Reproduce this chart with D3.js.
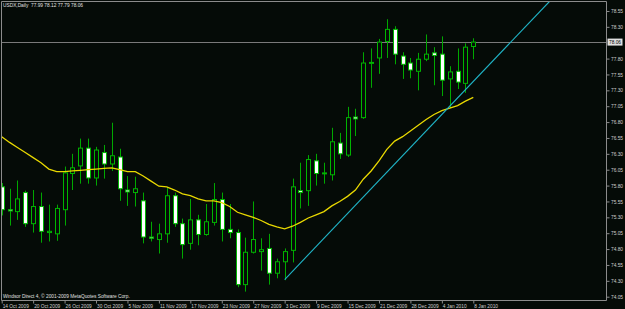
<!DOCTYPE html>
<html>
<head>
<meta charset="utf-8">
<script src="https://cdn.jsdelivr.net/npm/d3@7"></script>
<style>
  html, body { margin: 0; padding: 0; background: #050b07; overflow: hidden; }
  svg { display: block; }
  text { font-family: "Liberation Sans", Arial, sans-serif; }
</style>
</head>
<body>
<script>
// daily bars, 14 Oct 2009 .. 8 Jan 2010
const opens = [75.78,75.42,75.39,75.69,75.20,75.47,75.06,75.04,75.42,75.99,
  76.11,76.39,75.92,76.32,76.14,76.25,75.73,75.69,75.56,74.99,
  74.95,75.04,75.64,75.20,74.89,75.26,75.03,75.22,75.58,75.11,
  75.06,74.24,74.75,74.76,74.81,74.42,74.60,74.78,75.72,75.72,
  76.19,75.99,75.97,76.47,76.28,76.88,76.87,77.73,77.81,78.07,
  78.26,77.84,77.73,77.60,77.79,77.89,77.87,77.48,77.60,77.41,
  77.99];
const highs = [75.84,75.75,75.88,75.72,75.73,75.69,75.50,75.50,76.10,76.30,
  76.54,76.54,76.41,76.44,76.79,76.38,75.95,75.94,75.69,75.23,
  75.20,75.77,75.69,75.28,75.59,75.34,75.51,75.84,75.69,75.51,
  75.11,74.98,75.55,74.97,75.04,74.65,74.81,75.91,76.16,76.28,
  76.30,76.16,76.71,76.63,77.04,77.01,77.90,77.96,78.11,78.42,
  78.31,77.90,77.81,77.89,78.18,77.98,78.15,77.68,77.96,78.04,
  78.12];
const lows = [75.33,75.17,75.26,75.15,75.06,74.90,74.92,74.93,75.17,75.73,
  75.83,75.83,75.80,75.91,76.03,75.56,75.48,75.47,74.89,74.92,
  74.73,74.90,75.15,74.65,74.79,74.86,75.01,75.17,74.92,74.97,
  74.20,74.13,74.73,74.46,74.24,74.34,74.31,74.59,75.44,75.48,
  75.80,75.83,75.88,76.22,76.25,76.58,76.85,77.34,77.56,77.81,
  77.71,77.48,77.49,77.30,77.76,77.38,77.21,77.02,77.32,77.26,
  77.79];
const closes = [75.42,75.40,75.59,75.20,75.47,75.08,75.08,75.44,76.00,76.08,
  76.39,75.92,76.36,76.14,76.27,75.75,75.70,75.75,74.99,74.97,
  75.04,75.64,75.20,74.87,75.26,75.03,75.23,75.58,75.11,75.06,
  74.24,74.75,74.95,74.79,74.42,74.60,74.76,75.78,75.69,76.21,
  75.99,76.00,76.49,76.30,76.87,76.85,77.73,77.74,78.06,78.26,
  77.87,77.71,77.62,77.79,77.87,77.85,77.46,77.59,77.43,77.98,
  78.06];
// yellow moving average
const maValues = [76.57,76.48,76.40,76.32,76.24,76.16,76.06,76.02,76.02,76.03,
  76.04,76.05,76.06,76.07,76.08,76.05,76.02,76.02,75.95,75.87,
  75.79,75.78,75.73,75.67,75.64,75.59,75.56,75.56,75.53,75.47,
  75.38,75.34,75.30,75.25,75.19,75.15,75.12,75.16,75.22,75.29,
  75.34,75.39,75.48,75.55,75.63,75.73,75.90,76.03,76.19,76.37,
  76.50,76.57,76.66,76.75,76.84,76.92,76.98,77.02,77.06,77.13,
  77.19];

const priceTicks = [74.05,74.30,74.55,74.80,75.05,75.30,75.55,75.80,76.05,76.30,
  76.55,76.80,77.05,77.30,77.55,77.80,78.30,78.55];
const dateLabels = ["14 Oct 2009","20 Oct 2009","26 Oct 2009","30 Oct 2009","5 Nov 2009",
  "11 Nov 2009","17 Nov 2009","23 Nov 2009","27 Nov 2009","3 Dec 2009","9 Dec 2009",
  "15 Dec 2009","21 Dec 2009","28 Dec 2009","4 Jan 2010","8 Jan 2010"];
const dateTickBars = [0,4,8,12,16,20,24,28,32,36,40,44,48,52,56,60];

// trend line anchors (bar, price), drawn as a ray
const trendBars = [36, 60];
const trendPrices = [74.32, 77.44];

const lastPrice = 78.06;
const title = "USDX,Daily  77.99 78.12 77.79 78.06";
const copyright = "Windsor Direct 4, \u00a9 2001-2009 MetaQuotes Software Corp.";

const W = 625, H = 309;
const LEFT = 1, TOP = 1, RIGHT = 606, BOTTOM = 300;
const FONT = 4.8;

const svg = d3.select('body').append('svg')
  .attr('width', W).attr('height', H);

svg.append('rect').attr('width', W).attr('height', H).attr('fill', '#050b07');

const x = d3.scaleLinear().domain([0, 60]).range([1.7, 473.3]);
const y = d3.scaleLinear().domain([73.998, 78.707]).range([BOTTOM, TOP]);

svg.append('clipPath').attr('id', 'plot')
  .append('rect').attr('x', LEFT + 0.5).attr('y', TOP + 0.5)
  .attr('width', RIGHT - LEFT - 0.5).attr('height', BOTTOM - TOP - 0.5);

const plot = svg.append('g').attr('clip-path', 'url(#plot)');

// bid line
plot.append('line')
  .attr('x1', LEFT).attr('x2', RIGHT)
  .attr('y1', Math.round(y(lastPrice)) + 0.5).attr('y2', Math.round(y(lastPrice)) + 0.5)
  .attr('stroke', '#7a7a7a').attr('stroke-width', 1);

const bars = d3.range(opens.length).map(i => ({
  i: i, o: opens[i], h: highs[i], l: lows[i], c: closes[i]
}));

const candle = plot.selectAll('g.candle').data(bars).enter()
  .append('g').attr('class', 'candle');

candle.append('line')
  .attr('x1', d => Math.round(x(d.i)) + 0.5)
  .attr('x2', d => Math.round(x(d.i)) + 0.5)
  .attr('y1', d => y(d.h))
  .attr('y2', d => y(d.l))
  .attr('stroke', '#00a800').attr('stroke-width', 1);

candle.append('rect')
  .attr('x', d => Math.round(x(d.i)) - 1.5)
  .attr('width', 4)
  .attr('y', d => y(Math.max(d.o, d.c)))
  .attr('height', d => Math.max(1, Math.abs(y(d.o) - y(d.c))))
  .attr('fill', d => d.c < d.o ? '#ffffff' : '#050b07')
  .attr('stroke', '#00b400').attr('stroke-width', 1);

// moving average
plot.append('path')
  .datum(maValues)
  .attr('d', d3.line().x((d, i) => x(i)).y(d => y(d)))
  .attr('fill', 'none').attr('stroke', '#e8d800').attr('stroke-width', 1.3);

// trend ray
const slope = (trendPrices[1] - trendPrices[0]) / (trendBars[1] - trendBars[0]);
const endBar = trendBars[0] + (y.domain()[1] - trendPrices[0]) / slope;
plot.append('line')
  .attr('x1', x(trendBars[0])).attr('y1', y(trendPrices[0]))
  .attr('x2', x(endBar)).attr('y2', y(y.domain()[1]))
  .attr('stroke', '#20b4c6').attr('stroke-width', 1.1);

// frame
svg.append('path')
  .attr('d', `M${LEFT + 0.5},${TOP + 0.5}H${RIGHT + 0.5}V${BOTTOM + 0.5}H${LEFT + 0.5}Z`)
  .attr('fill', 'none').attr('stroke', '#8c8c8c').attr('stroke-width', 1);

// price axis
const yAxis = svg.append('g')
  .attr('transform', `translate(${RIGHT + 0.5},0)`)
  .call(d3.axisRight(y).tickValues(priceTicks).tickSize(3).tickPadding(1.5)
    .tickFormat(d3.format('.2f')));
yAxis.select('.domain').remove();
yAxis.selectAll('line').attr('stroke', '#8c8c8c');
yAxis.selectAll('text').attr('fill', '#d0d0d0').attr('font-size', FONT)
  .attr('font-family', '"Liberation Sans", Arial, sans-serif');

// current price tag
const py = y(lastPrice);
svg.append('rect')
  .attr('x', RIGHT + 1.5).attr('y', py - 3.5).attr('width', 15).attr('height', 7)
  .attr('fill', '#e0e0e0');
svg.append('text')
  .attr('x', RIGHT + 3).attr('y', py + 1.7)
  .attr('font-size', FONT).attr('fill', '#000').text(d3.format('.2f')(lastPrice));

// date axis
const xAxis = svg.append('g')
  .attr('transform', `translate(0,${BOTTOM + 0.5})`)
  .call(d3.axisBottom(x).tickValues(dateTickBars).tickSize(3).tickPadding(2)
    .tickFormat((d, k) => dateLabels[k]));
xAxis.select('.domain').remove();
xAxis.selectAll('line').attr('stroke', '#8c8c8c');
xAxis.selectAll('text').attr('fill', '#d0d0d0').attr('font-size', FONT)
  .attr('font-family', '"Liberation Sans", Arial, sans-serif')
  .attr('text-anchor', 'start').attr('x', 0.5).attr('dy', '0.55em');

// captions
svg.append('text').attr('x', 3).attr('y', 7)
  .attr('font-size', FONT).attr('fill', '#e0e0e0')
  .attr('xml:space', 'preserve').style('white-space', 'pre').text(title);
svg.append('text').attr('x', 3).attr('y', 297.5)
  .attr('font-size', FONT).attr('fill', '#e0e0e0').text(copyright);
</script>
</body>
</html>
